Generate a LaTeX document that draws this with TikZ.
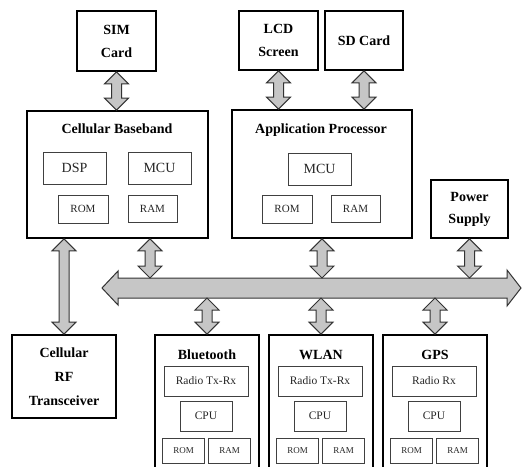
\documentclass[tikz,border=0pt]{standalone}
\usepackage{fontspec}
\setmainfont{Liberation Serif}
\usetikzlibrary{calc}

\newcommand{\titlefont}{\fontsize{14}{23}\selectfont\bfseries}
\newcommand{\subfont}{\fontsize{14}{16}\selectfont}
\newcommand{\memfont}{\fontsize{11}{13}\selectfont}
\newcommand{\radfont}{\fontsize{11.5}{13}\selectfont}
\newcommand{\smfont}{\fontsize{9}{11}\selectfont}

% fat double headed arrow, drawn from the upper point down to the lower one
\newcommand{\dblarrow}[2]{%
  \filldraw[fatarrow] let \p1=#1, \p2=#2 in
    (\x1,\y1) -- (\x1+12pt,\y1-12pt) -- (\x1+5pt,\y1-12pt) -- (\x1+5pt,\y2+12pt)
    -- (\x1+12pt,\y2+12pt) -- (\x1,\y2) -- (\x1-12pt,\y2+12pt) -- (\x1-5pt,\y2+12pt)
    -- (\x1-5pt,\y1-12pt) -- (\x1-12pt,\y1-12pt) -- cycle;}

\tikzset{
  blk/.style={draw, line width=1.8pt, inner sep=0pt, align=center, font=\titlefont},
  ttl/.style={inner sep=0pt, font=\titlefont},
  sub/.style={draw=black!75, line width=1pt, inner sep=0pt, text=black!85},
  fatarrow/.style={fill=gray!45, draw=black!80, line width=1pt, line join=miter}
}

\begin{document}
\begin{tikzpicture}[x=1pt, y=-1pt]
  \useasboundingbox (0,0) rectangle (522,466);
  \clip (0,0) rectangle (522,466);

  % top row
  \node[blk, minimum width=79pt, minimum height=60pt] (sim) at (116.5,41) {SIM\\Card};
  \node[blk, minimum width=79pt, minimum height=59pt] (lcd) at (278.5,40.5) {LCD\\Screen};
  \node[blk, minimum width=78pt, minimum height=59pt] (sd) at (364,40.5) {SD Card};

  % cellular baseband
  \node[blk, minimum width=181pt, minimum height=127pt] (bb) at (117.5,174.5) {};
  \node[ttl] (bbT) at (117,129) {Cellular Baseband};
  \node[sub, font=\subfont, minimum width=63pt, minimum height=32pt] (dsp) at (74.5,168) {DSP};
  \node[sub, font=\subfont, minimum width=63pt, minimum height=32pt] (bbMcu) at (159.5,168) {MCU};
  \node[sub, font=\memfont, minimum width=50pt, minimum height=28pt] (bbRom) at (83,209) {ROM};
  \node[sub, font=\memfont, minimum width=49pt, minimum height=27pt] (bbRam) at (152.5,208.5) {RAM};

  % application processor
  \node[blk, minimum width=180pt, minimum height=128pt] (ap) at (322,174) {};
  \node[ttl] (apT) at (321,130) {Application Processor};
  \node[sub, font=\subfont, minimum width=63pt, minimum height=32pt] (apMcu) at (319.5,169) {MCU};
  \node[sub, font=\memfont, minimum width=50pt, minimum height=28pt] (apRom) at (287,209) {ROM};
  \node[sub, font=\memfont, minimum width=49pt, minimum height=27pt] (apRam) at (355.5,208.5) {RAM};

  \node[blk, minimum width=77pt, minimum height=58pt, font=\fontsize{14}{22}\selectfont\bfseries] (pwr) at (469.5,209) {Power\\Supply};

  \node[blk, minimum width=104pt, minimum height=83pt, font=\fontsize{14}{24}\selectfont\bfseries] (rf) at (64,376.5) {Cellular\\RF\\Transceiver};

  % bus
  \filldraw[fatarrow] (102,288) -- (118,271) -- (118,278) -- (507,278) -- (507,270)
    -- (521,288) -- (507,306) -- (507,298) -- (118,298) -- (118,305) -- cycle;
  \coordinate (bbBus) at (150,278);
  \coordinate (apBus) at (322,278);
  \coordinate (pwrBus) at (469.5,278);

  % wireless blocks below the bus
  \foreach \nm/\cx/\name/\radio in {bt/207/Bluetooth/Radio Tx-Rx, wlan/321/WLAN/Radio Tx-Rx, gps/435/GPS/Radio Rx} {
    \node[blk, minimum width=104pt, minimum height=155pt] (\nm) at (\cx,412.5) {};
    \node[ttl] (\nm T) at (\cx,355) {\name};
    \node[sub, font=\radfont, minimum width=84pt, minimum height=30pt] (\nm R) at (\cx-1,381) {\radio};
    \node[sub, font=\radfont, minimum width=52pt, minimum height=30pt] (\nm C) at (\cx-1,416) {CPU};
    \node[sub, font=\smfont, minimum width=42pt, minimum height=25pt] (\nm Rom) at (\cx-23.5,450.5) {ROM};
    \node[sub, font=\smfont, minimum width=42pt, minimum height=25pt] (\nm Ram) at (\cx+22.5,450.5) {RAM};
    \coordinate (\nm Bus) at (\cx,298);
    \dblarrow{(\nm Bus)}{(\nm.north)}
  }

  % connections
  \dblarrow{(sim.south)}{(bb.north)}
  \dblarrow{(lcd.south)}{(lcd.south |- ap.north)}
  \dblarrow{(sd.south)}{(sd.south |- ap.north)}
  \dblarrow{(bbBus |- bb.south)}{(bbBus)}
  \dblarrow{(ap.south)}{(apBus)}
  \dblarrow{(pwr.south)}{(pwrBus)}
  \dblarrow{(rf.north |- bb.south)}{(rf.north)}
\end{tikzpicture}
\end{document}
